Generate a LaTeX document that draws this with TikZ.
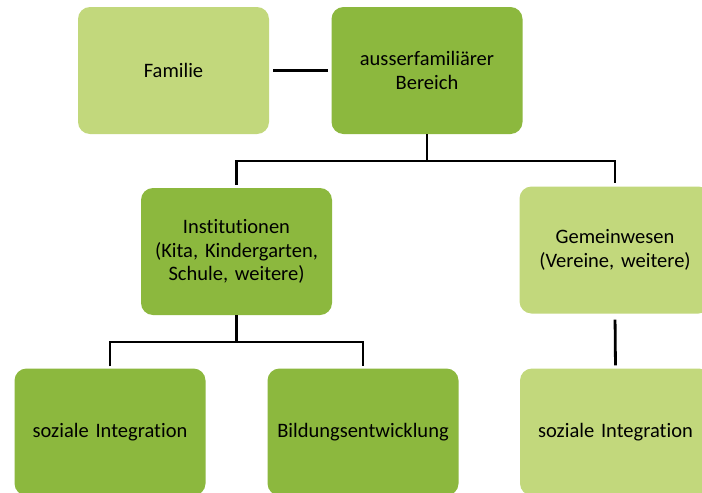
\documentclass[tikz,border=0pt]{standalone}
\usepackage{fontspec}
\setmainfont[Ligatures=NoCommon, WordSpace=0.7]{Carlito}
\definecolor{dkg}{HTML}{8CB83E}
\definecolor{ltg}{HTML}{C2D87C}
\begin{document}
\begin{tikzpicture}[x=1pt,y=-1pt,
  box/.style={rounded corners=12pt, minimum width=191pt, minimum height=127pt,
    text width=185pt, align=center, font=\fontsize{20.5}{23.5}\selectfont,
    inner sep=0pt, text=black},
  dark/.style={box, fill=dkg},
  light/.style={box, fill=ltg},
  conn/.style={line width=2.8pt}]
\useasboundingbox[clip] (0,0) rectangle (702,493);
\fill[white] (0,0) rectangle (702,493);
\node[light] (fam) at (173.5,70.5) {Familie};
\node[dark] (aus) at (427,70.5) {ausserfamiliärer\\Bereich};
\node[dark] (inst) at (236.5,251.5) {Institutionen\\(Kita, Kindergarten,\\Schule, weitere)};
\node[light] (gem) at (615,250) {Gemeinwesen\\(Vereine, weitere)};
\node[dark] (soz1) at (110,432) {soziale Integration};
\node[dark] (bild) at (363,432) {Bildungsentwicklung};
\node[light] (soz2) at (615.5,432) {soziale Integration};
\coordinate (bus1) at (427,161);
\coordinate (bus2) at (236.5,342);
\draw[conn, shorten <=4pt, shorten >=3pt] (fam.east) -- (aus.west);
\draw[conn] (aus.south) -- (bus1);
\draw[conn, shorten <=3pt, shorten >=3pt] (inst.north) |- (bus1) -| (gem.north);
\draw[conn] (inst.south) -- (bus2);
\draw[conn, shorten <=2pt, shorten >=2pt] (soz1.north) |- (bus2) -| (bild.north);
\draw[conn, shorten <=6pt, shorten >=3pt] (gem.south) -- (soz2.north);
\end{tikzpicture}
\end{document}
